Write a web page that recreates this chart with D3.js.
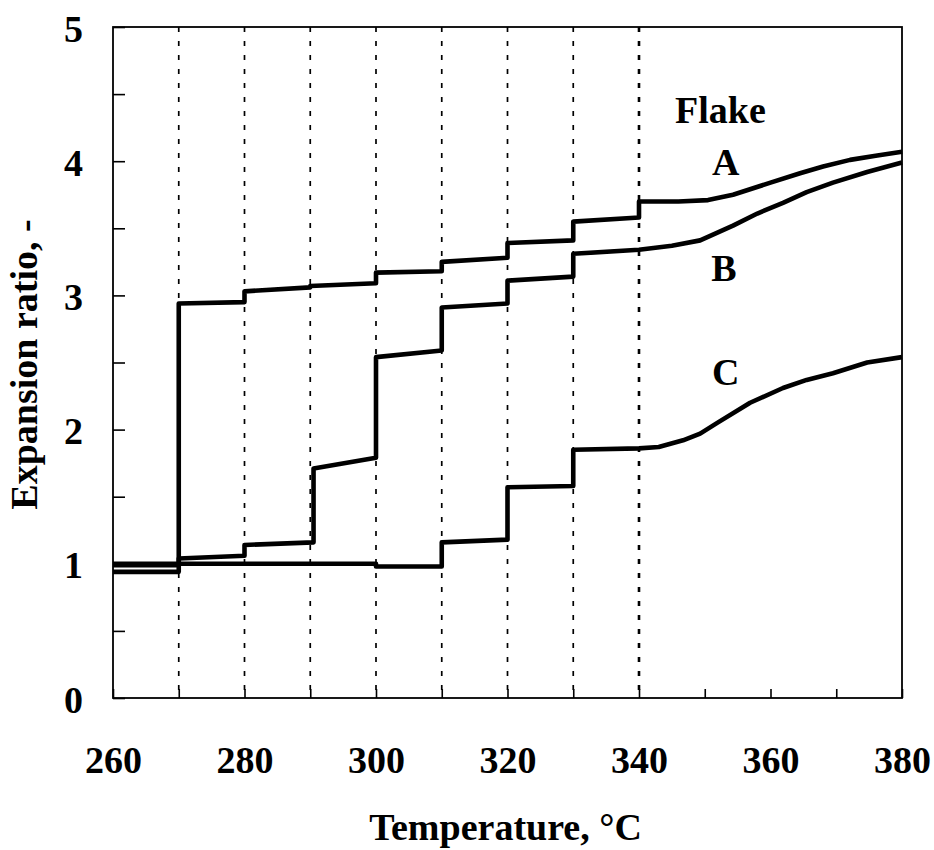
<!DOCTYPE html>
<html>
<head>
<meta charset="utf-8">
<script src="https://cdn.jsdelivr.net/npm/d3@7"></script>
<style>
  body { margin: 0; background: #fff; }
  text { font-family: "Liberation Serif", "Times New Roman", serif; font-weight: bold; }
</style>
</head>
<body>
<div id="chart"></div>
<script>
// ticks and guide lines
var tempTicks = [260, 270, 280, 290, 300, 310, 320, 330, 340, 350, 360, 370, 380];
var tempLabels = [260, 280, 300, 320, 340, 360, 380];
var ratioTicks = [0, 0.5, 1, 1.5, 2, 2.5, 3, 3.5, 4, 4.5, 5];
var stepTemps = [270, 280, 290, 300, 310, 320, 330, 340];

// flake A, B, C : [temperature, expansion ratio]
var flakeA = [[260, 0.94], [270, 0.94], [270, 2.94], [280, 2.95], [280, 3.03], [290, 3.06],
  [290, 3.07], [300, 3.09], [300, 3.17], [310, 3.18], [310, 3.25], [320, 3.28], [320, 3.39],
  [330, 3.41], [330, 3.55], [340, 3.58], [340, 3.70], [346, 3.70], [350.5, 3.71], [354.3, 3.75],
  [360, 3.84], [364.5, 3.91], [368, 3.96], [372.1, 4.01], [376, 4.04], [380, 4.07]];
var flakeB = [[260, 0.99], [270, 0.99], [270, 1.04], [280, 1.06], [280, 1.14], [290.5, 1.16],
  [290.5, 1.71], [300, 1.79], [300, 2.54], [310, 2.59], [310, 2.91], [320, 2.94], [320, 3.11],
  [330, 3.14], [330, 3.31], [340, 3.34], [345, 3.37], [349.3, 3.41], [354.3, 3.52], [358, 3.61],
  [361.9, 3.69], [365.5, 3.77], [369.5, 3.84], [374.7, 3.92], [380, 3.99]];
var flakeC = [[260, 1.0], [300, 1.0], [300, 0.98], [310, 0.98], [310, 1.16], [320, 1.18],
  [320, 1.57], [330, 1.58], [330, 1.85], [340, 1.86], [343, 1.87], [346.7, 1.92], [349.3, 1.97],
  [351.9, 2.05], [356.9, 2.20], [361.9, 2.31], [365.5, 2.37], [369.5, 2.42], [374.7, 2.50], [380, 2.54]];
var seriesNames = ["A", "B", "C"];
var seriesLabelAt = [[353.2, 3.9], [352.9, 3.11], [353.2, 2.33]];

var dim = { width: 934, height: 850 };
var margin = { left: 113, right: 32, top: 27, bottom: 152 };

var svg = d3.select("#chart").append("svg")
  .attr("width", dim.width)
  .attr("height", dim.height)
  .style("background", "#fff");

var x = d3.scaleLinear().domain([260, 380]).range([margin.left, dim.width - margin.right]);
var y = d3.scaleLinear().domain([0, 5]).range([dim.height - margin.bottom, margin.top]);

// dashed guide lines at each step
svg.append("g").selectAll("line")
  .data(stepTemps)
  .join("line")
  .attr("x1", (d) => x(d))
  .attr("x2", (d) => x(d))
  .attr("y1", y(5))
  .attr("y2", y(0))
  .attr("stroke", "#000")
  .attr("stroke-width", (d) => (d == 340 ? 2.6 : 1.7))
  .attr("stroke-dasharray", "5,9");

// axes (ticks point inward)
var xAxis = d3.axisBottom(x)
  .tickValues(tempTicks)
  .tickSize(-9)
  .tickFormat((d) => (tempLabels.includes(d) ? d : ""));
var gx = svg.append("g")
  .attr("transform", `translate(0,${y(0)})`)
  .call(xAxis);
gx.select(".domain").remove();
gx.selectAll(".tick line").attr("stroke-width", 1.6);
gx.selectAll("text")
  .attr("y", 75)
  .attr("dy", 0)
  .attr("font-size", 38)
  .attr("font-family", "Liberation Serif, serif")
  .attr("font-weight", "bold")
  .attr("fill", "#000");

var yAxis = d3.axisLeft(y)
  .tickValues(ratioTicks)
  .tickSize(-12)
  .tickFormat((d) => (d % 1 == 0 ? d : ""));
var gy = svg.append("g")
  .attr("transform", `translate(${x(260)},0)`)
  .call(yAxis);
gy.select(".domain").remove();
gy.selectAll(".tick line").attr("stroke-width", 1.6);
gy.selectAll("text")
  .attr("x", -30)
  .attr("dy", 14)
  .attr("text-anchor", "end")
  .attr("font-size", 38)
  .attr("font-family", "Liberation Serif, serif")
  .attr("font-weight", "bold")
  .attr("fill", "#000");

// frame
svg.append("rect")
  .attr("x", x(260))
  .attr("y", y(5))
  .attr("width", x(380) - x(260))
  .attr("height", y(0) - y(5))
  .attr("fill", "none")
  .attr("stroke", "#000")
  .attr("stroke-width", 1.8);

// curves
var line = d3.line()
  .x((d) => x(d[0]))
  .y((d) => y(d[1]));

svg.append("g").selectAll("path")
  .data([flakeA, flakeB, flakeC])
  .join("path")
  .attr("d", line)
  .attr("fill", "none")
  .attr("stroke", "#000")
  .attr("stroke-width", 4.6)
  .attr("stroke-linejoin", "round");

// labels
svg.append("text")
  .attr("x", 675)
  .attr("y", 123)
  .attr("font-size", 38)
  .text("Flake");

svg.append("g").selectAll("text")
  .data(seriesNames)
  .join("text")
  .attr("x", (d, i) => x(seriesLabelAt[i][0]))
  .attr("y", (d, i) => y(seriesLabelAt[i][1]))
  .attr("text-anchor", "middle")
  .attr("font-size", 38)
  .text((d) => d);

svg.append("text")
  .attr("x", (x(260) + x(380)) / 2 - 2)
  .attr("y", 840)
  .attr("text-anchor", "middle")
  .attr("font-size", 38)
  .text("Temperature, °C");

svg.append("text")
  .attr("transform", `translate(37,${y(2.5) + 2}) rotate(-90)`)
  .attr("text-anchor", "middle")
  .attr("font-size", 38)
  .text("Expansion ratio, -");
</script>
</body>
</html>
